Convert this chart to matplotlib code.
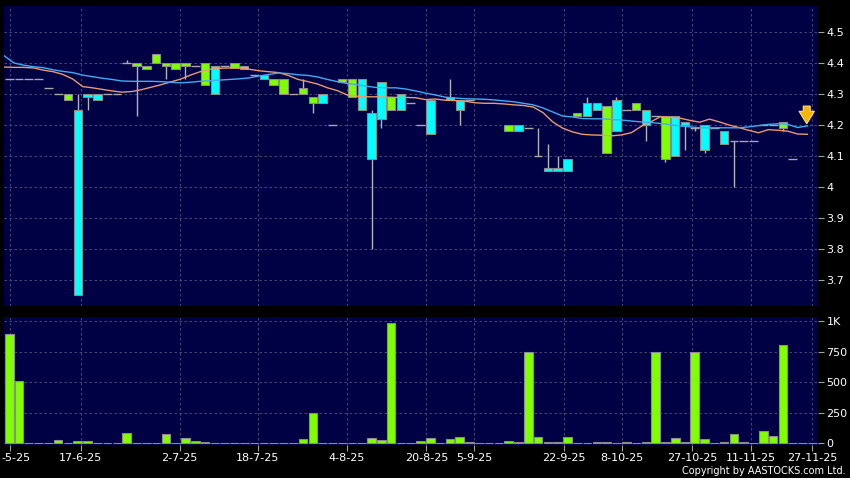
import numpy as np
import matplotlib.pyplot as plt
from matplotlib.transforms import ScaledTranslation

nan = np.nan

# one slot per traded day, nan = no trade that day
opens = [4.35, 4.35, 4.35, 4.35, 4.32, 4.30, 4.28, 4.25, 4.30, 4.30,
         4.30, 4.30, 4.40, 4.39, 4.38, 4.40, 4.39, 4.38, 4.39, 4.39,
         4.33, 4.39, 4.39, 4.385, 4.38, 4.36, 4.36, 4.33, 4.30, 4.30,
         4.30, 4.27, 4.30, 4.20, 4.34, 4.29, 4.35, 4.24, 4.34, 4.25,
         4.30, 4.27, 4.20, 4.28, nan, 4.29, 4.28, 4.28, nan, nan,
         nan, 4.18, 4.20, 4.19, 4.10, 4.06, 4.06, 4.09, 4.23, 4.27,
         4.27, 4.11, 4.28, 4.25, 4.25, 4.25, 4.23, 4.09, 4.23, 4.21,
         4.19, 4.20, 4.19, 4.18, 4.15, 4.15, 4.15, 4.20, 4.20, 4.19,
         4.09, nan, nan]
highs = [4.35, 4.35, 4.35, 4.35, 4.32, 4.30, 4.30, 4.30, 4.30, 4.30,
         4.30, 4.30, 4.41, 4.40, 4.39, 4.43, 4.40, 4.40, 4.40, 4.39,
         4.40, 4.39, 4.39, 4.40, 4.39, 4.36, 4.36, 4.35, 4.35, 4.30,
         4.35, 4.29, 4.30, 4.20, 4.35, 4.35, 4.35, 4.25, 4.34, 4.29,
         4.30, 4.27, 4.20, 4.28, nan, 4.35, 4.28, 4.28, nan, nan,
         nan, 4.20, 4.20, 4.19, 4.19, 4.14, 4.10, 4.09, 4.24, 4.29,
         4.27, 4.26, 4.29, 4.25, 4.27, 4.25, 4.23, 4.23, 4.23, 4.21,
         4.195, 4.20, 4.19, 4.18, 4.15, 4.15, 4.15, 4.20, 4.20, 4.21,
         4.09, nan, nan]
lows = [4.35, 4.35, 4.35, 4.35, 4.32, 4.30, 4.28, 3.65, 4.25, 4.28,
        4.30, 4.30, 4.40, 4.23, 4.38, 4.40, 4.35, 4.38, 4.35, 4.39,
        4.33, 4.30, 4.39, 4.385, 4.38, 4.36, 4.35, 4.33, 4.30, 4.30,
        4.30, 4.24, 4.27, 4.20, 4.34, 4.29, 4.25, 3.80, 4.19, 4.25,
        4.25, 4.27, 4.20, 4.17, nan, 4.28, 4.20, 4.28, nan, nan,
        nan, 4.18, 4.18, 4.19, 4.10, 4.05, 4.05, 4.05, 4.23, 4.23,
        4.25, 4.11, 4.18, 4.25, 4.25, 4.15, 4.23, 4.08, 4.10, 4.12,
        4.18, 4.11, 4.19, 4.14, 4.00, 4.15, 4.15, 4.20, 4.20, 4.18,
        4.09, nan, nan]
closes = [4.35, 4.35, 4.35, 4.35, 4.32, 4.30, 4.30, 3.65, 4.29, 4.28,
          4.30, 4.30, 4.40, 4.40, 4.39, 4.43, 4.40, 4.40, 4.40, 4.39,
          4.40, 4.30, 4.39, 4.40, 4.39, 4.36, 4.35, 4.35, 4.35, 4.30,
          4.32, 4.29, 4.27, 4.20, 4.35, 4.35, 4.25, 4.09, 4.22, 4.29,
          4.25, 4.27, 4.20, 4.17, nan, 4.28, 4.25, 4.28, nan, nan,
          nan, 4.20, 4.18, 4.19, 4.10, 4.05, 4.05, 4.05, 4.24, 4.23,
          4.25, 4.26, 4.18, 4.25, 4.27, 4.20, 4.23, 4.23, 4.10, 4.20,
          4.19, 4.12, 4.19, 4.14, 4.15, 4.15, 4.15, 4.20, 4.20, 4.21,
          4.09, nan, nan]
volume = [900, 508, 2, 2, 2, 25, 3, 17, 17, 5,
          2, 2, 83, 2, 1, 1, 78, 2, 42, 19,
          8, 2, 1, 2, 2, 5, 2, 2, 2, 3,
          33, 245, 2, 2, 2, 3, 5, 47, 25, 983,
          2, 2, 20, 47, 0, 36, 52, 8, 0, 0,
          0, 19, 8, 750, 55, 10, 10, 55, 2, 5,
          10, 10, 2, 10, 2, 10, 750, 10, 40, 10,
          750, 35, 5, 8, 75, 8, 2, 100, 60, 810,
          5, 0, 0]
ma_blue = [4.423, 4.400, 4.393, 4.388, 4.385, 4.378, 4.373, 4.369, 4.361, 4.356,
           4.351, 4.347, 4.342, 4.341, 4.341, 4.341, 4.340, 4.338, 4.336, 4.338,
           4.341, 4.343, 4.345, 4.347, 4.349, 4.352, 4.358, 4.363, 4.368, 4.366,
           4.362, 4.360, 4.355, 4.347, 4.340, 4.334, 4.330, 4.325, 4.321, 4.320,
           4.320, 4.316, 4.310, 4.303, 4.297, 4.290, 4.287, 4.285, 4.284, 4.283,
           4.281, 4.278, 4.275, 4.270, 4.265, 4.255, 4.242, 4.229, 4.226, 4.221,
           4.220, 4.220, 4.218, 4.216, 4.213, 4.210, 4.208, 4.205, 4.201, 4.197,
           4.194, 4.191, 4.191, 4.191, 4.191, 4.191, 4.194, 4.198, 4.202, 4.204,
           4.202, 4.192, 4.197]
ma_orange = [4.387, 4.386, 4.386, 4.384, 4.377, 4.372, 4.363, 4.348, 4.324, 4.320,
             4.315, 4.310, 4.306, 4.308, 4.314, 4.322, 4.330, 4.339, 4.348, 4.361,
             4.372, 4.380, 4.383, 4.384, 4.384, 4.380, 4.375, 4.372, 4.369, 4.360,
             4.347, 4.340, 4.332, 4.320, 4.311, 4.297, 4.293, 4.291, 4.291, 4.290,
             4.289, 4.289, 4.288, 4.282, 4.284, 4.280, 4.279, 4.277, 4.272, 4.270,
             4.270, 4.268, 4.265, 4.263, 4.258, 4.240, 4.210, 4.190, 4.178, 4.170,
             4.168, 4.167, 4.165, 4.168, 4.175, 4.195, 4.210, 4.227, 4.225, 4.222,
             4.215, 4.209, 4.219, 4.210, 4.200, 4.192, 4.183, 4.175, 4.185, 4.183,
             4.180, 4.171, 4.170]
tick_labels = ["-5-25", "17-6-25", "2-7-25", "18-7-25", "4-8-25", "20-8-25",
               "5-9-25", "22-9-25", "8-10-25", "27-10-25", "11-11-25", "27-11-25"]
tick_pos = [0.1, 7.3, 17.4, 25.4, 34.5, 42.6, 47.5, 56.6, 62.6, 69.7, 75.7, 82.0]
price_ticks = [3.7, 3.8, 3.9, 4.0, 4.1, 4.2, 4.3, 4.4, 4.5]
price_tick_labels = ["3.7", "3.8", "3.9", "4", "4.1", "4.2", "4.3", "4.4", "4.5"]
vol_ticks = [0, 250, 500, 750, 1000]
vol_tick_labels = ["0", "250", "500", "750", "1K"]

UP = "#80ff00"
DOWN = "#00ffff"
BG = "#000044"
GRID = "#52527e"


def style_axis(ax):
    ax.set_facecolor(BG)
    for s in ax.spines.values():
        s.set_visible(False)
    ax.yaxis.tick_right()
    ax.tick_params(axis="y", colors="#a0a0a0", labelcolor="white", labelsize=8,
                   length=4, width=0.8, direction="out", pad=2)
    ax.grid(True, color=GRID, linestyle=(0, (3, 3)), linewidth=0.6)
    ax.set_axisbelow(True)
    ax.set_xlim(-0.53, 82.58)
    ax.set_xticks(tick_pos)


def main():
    o = np.array(opens)
    h = np.array(highs)
    l = np.array(lows)
    c = np.array(closes)
    x = np.arange(len(o))

    fig = plt.figure(figsize=(8.5, 4.78), dpi=100, facecolor="black")
    ax = fig.add_axes([4 / 850, 1 - 306 / 478, 814 / 850, 300 / 478])
    axv = fig.add_axes([4 / 850, 1 - 445 / 478, 814 / 850, 128 / 478])
    style_axis(ax)
    style_axis(axv)

    # candles
    ok = ~np.isnan(o)
    ax.vlines(x[ok], l[ok], h[ok], color="#b4b4b4", linewidth=1, zorder=2)
    flat = ok & (o == c)
    body = ok & (o != c)
    colors = np.where(c > o, UP, DOWN)
    ax.bar(x[body], (c - o)[body], bottom=o[body], width=0.86,
           color=colors[body], edgecolor="#8c8c8c", linewidth=0.8, zorder=3)
    ax.hlines(c[flat], x[flat] - 0.45, x[flat] + 0.45, color="#a8a8a8",
              linewidth=1, zorder=3)

    # moving averages, drawn on the slot edges
    ax.plot(x - 0.5, ma_orange, color="#e89a70", linewidth=1, zorder=4)
    ax.plot(x - 0.5, ma_blue, color="#45aaf0", linewidth=1, zorder=4)

    ax.annotate("", xy=(81.43, 4.195), xytext=(81.43, 4.27),
                arrowprops=dict(arrowstyle="simple,head_width=1.1,head_length=0.9,tail_width=0.5",
                                fc="#f5b400", ec="#ffe080", lw=0.8), zorder=5)

    ax.set_ylim(3.616, 4.584)
    ax.set_yticks(price_ticks)
    ax.set_yticklabels(price_tick_labels)
    ax.tick_params(axis="x", length=0, labelbottom=False)

    # volume
    axv.bar(x, volume, width=0.88, color=UP, edgecolor="#8c8c8c", linewidth=0.8, zorder=3)
    axv.set_ylim(-14, 1036)
    axv.set_yticks(vol_ticks)
    axv.set_yticklabels(vol_tick_labels)
    axv.set_xticklabels(tick_labels)
    axv.tick_params(axis="x", colors="#a0a0a0", labelcolor="white", labelsize=8,
                    length=4, width=0.8, direction="out", pad=2)
    first = axv.get_xticklabels()[0]
    first.set_transform(first.get_transform() + ScaledTranslation(0.06, 0, fig.dpi_scale_trans))

    fig.text(846 / 850, 1 - 471 / 478, "Copyright by AASTOCKS.com Ltd.", color="white",
             fontsize=7, ha="right", va="center")

    fig.savefig("out.png", dpi=100, facecolor="black")


if __name__ == "__main__":
    main()
